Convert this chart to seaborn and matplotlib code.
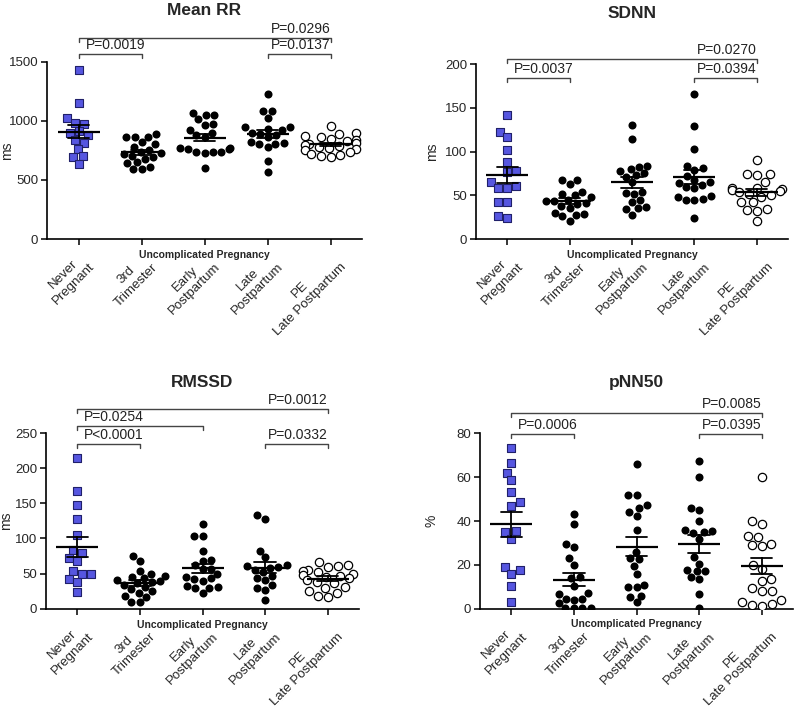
import numpy as np
import pandas as pd
import seaborn as sns
import matplotlib.pyplot as plt
from matplotlib.transforms import blended_transform_factory

sns.set_theme(style="ticks")
plt.rcParams['font.family'] = ['Liberation Sans', 'DejaVu Sans']

groups = ["Never\nPregnant", "3rd\nTrimester", "Early\nPostpartum",
          "Late\nPostpartum", "PE\nLate Postpartum"]

# Mean RR (ms)
rr_never = [1427, 1150, 1020, 980, 970, 910, 900, 880, 840, 815, 760, 700, 695, 635]
rr_3rd = [865, 860, 885, 860, 820, 800, 780, 750, 740, 725, 720, 700, 690, 680, 650, 640, 610, 590, 590]
rr_early = [1063, 1050, 1045, 1012, 973, 964, 922, 900, 880, 866, 770, 767, 765, 760, 740, 738, 735, 730, 598]
rr_late = [1226, 1085, 1080, 1021, 950, 945, 930, 920, 900, 890, 880, 860, 820, 810, 805, 800, 780, 662, 564]
rr_pe = [955, 895, 890, 870, 860, 850, 840, 830, 810, 800, 795, 790, 780, 770, 760, 750, 740, 720, 710, 700, 690]

# SDNN (ms)
sdnn_never = [142, 123, 117, 102, 88, 78, 77, 65, 61, 58, 58, 42, 42, 26, 24]
sdnn_3rd = [68, 68, 63, 54, 52, 50, 48, 45, 44, 43, 41, 40, 38, 36, 30, 29, 27, 26, 21]
sdnn_early = [131, 114, 84, 82, 80, 78, 75, 73, 71, 65, 54, 53, 51, 45, 42, 37, 35, 34, 28]
sdnn_late = [166, 129, 103, 84, 81, 79, 72, 68, 65, 64, 62, 60, 58, 49, 48, 46, 45, 45, 24]
sdnn_pe = [90, 74, 74, 73, 65, 58, 58, 57, 56, 55, 54, 52, 50, 48, 42, 42, 34, 33, 32, 21]

# RMSSD (ms)
rmssd_never = [215, 168, 147, 127, 105, 84, 79, 72, 68, 53, 50, 49, 42, 38, 24]
rmssd_3rd = [75, 68, 53, 50, 47, 45, 43, 41, 40, 38, 36, 34, 31, 28, 25, 23, 18, 17, 10, 9]
rmssd_early = [121, 104, 103, 82, 70, 68, 62, 57, 56, 50, 45, 43, 42, 40, 32, 31, 30, 29, 23]
rmssd_late = [133, 128, 82, 73, 62, 61, 59, 58, 55, 52, 47, 43, 41, 34, 29, 27, 12]
rmssd_pe = [66, 62, 61, 59, 55, 53, 52, 50, 48, 47, 45, 43, 41, 38, 36, 31, 30, 25, 22, 18, 17]

# pNN50 (%)
pnn_never = [73.5, 66.5, 62, 58.5, 53, 48.5, 47, 35.5, 35, 32, 19, 17.5, 16, 10.5, 3]
pnn_3rd = [43, 38.5, 29.5, 28, 23, 20, 14.5, 14, 10.5, 7, 6.5, 4.5, 4.5, 4, 2.5, 0.5, 0.5, 0.3, 0.2]
pnn_early = [66, 52, 52, 47.5, 46, 44.3, 42.5, 36, 26, 23, 22.5, 19.5, 16, 11, 10, 9.8, 6, 5.5, 3]
pnn_late = [67.5, 60, 46, 45, 40, 36, 35.5, 35, 34.5, 32, 23.5, 20.5, 17.5, 17.2, 17, 14.3, 13.5, 6.5, 0.2]
pnn_pe = [60, 40, 38.5, 33, 32.5, 29.5, 29, 28.5, 20, 18, 13.5, 12.5, 9.5, 8, 8, 4, 3, 2, 1.5, 1.2]

panels = [
    dict(title="Mean RR", ylabel="ms", ymax=1500, yticks=[0, 500, 1000, 1500],
         values=[rr_never, rr_3rd, rr_early, rr_late, rr_pe],
         pvals=[(0, 1, "P=0.0019"), (3, 4, "P=0.0137"), (0, 4, "P=0.0296")]),
    dict(title="SDNN", ylabel="ms", ymax=200, yticks=[0, 50, 100, 150, 200],
         values=[sdnn_never, sdnn_3rd, sdnn_early, sdnn_late, sdnn_pe],
         pvals=[(0, 1, "P=0.0037"), (3, 4, "P=0.0394"), (0, 4, "P=0.0270")]),
    dict(title="RMSSD", ylabel="ms", ymax=250, yticks=[0, 50, 100, 150, 200, 250],
         values=[rmssd_never, rmssd_3rd, rmssd_early, rmssd_late, rmssd_pe],
         pvals=[(0, 1, "P<0.0001"), (0, 2, "P=0.0254"), (3, 4, "P=0.0332"), (0, 4, "P=0.0012")]),
    dict(title="pNN50", ylabel="%", ymax=80, yticks=[0, 20, 40, 60, 80],
         values=[pnn_never, pnn_3rd, pnn_early, pnn_late, pnn_pe],
         pvals=[(0, 1, "P=0.0006"), (3, 4, "P=0.0395"), (0, 4, "P=0.0085")]),
]

# layout (pixels in a 795x713 canvas)
W, H = 795, 713
rects = [(47, 61.7, 362, 239), (476, 64.3, 788, 239),
         (46, 433, 359, 608.7), (480, 433.3, 793, 608.7)]
bracket_levels = [[1.043, 1.043, 1.135], [0.92, 0.92, 1.029],
                  [0.939, 1.042, 0.939, 1.138], [0.996, 0.996, 1.114]]
ylabel_x = [-0.105, -0.12, -0.104, -0.134]

fig = plt.figure(figsize=(W / 100, H / 100), dpi=100)

for k, p in enumerate(panels):
    x0, y0, x1, y1 = rects[k]
    ax = fig.add_axes([x0 / W, 1 - y1 / H, (x1 - x0) / W, (y1 - y0) / H])

    rows = []
    for g, vals in zip(groups, p["values"]):
        for v in vals:
            rows.append((g, v))
    df = pd.DataFrame(rows, columns=["group", "value"])

    sq = df[df.group == groups[0]]
    filled = df[df.group.isin(groups[1:4])]
    hollow = df[df.group == groups[4]]
    sns.swarmplot(data=sq, x="group", y="value", order=groups, marker="s", size=5.5,
                  color="#5656e0", edgecolor="#20206a", linewidth=0.8, ax=ax, zorder=3)
    sns.swarmplot(data=filled, x="group", y="value", order=groups, size=5.8,
                  color="black", edgecolor="black", linewidth=0, ax=ax, zorder=3)
    sns.swarmplot(data=hollow, x="group", y="value", order=groups, size=6.0,
                  color="white", edgecolor="black", linewidth=0.9, ax=ax, zorder=3)

    # mean +/- SEM
    sns.pointplot(data=df, x="group", y="value", order=groups, errorbar="se",
                  capsize=0.34, color="black", marker="_", markersize=30,
                  markeredgewidth=1.6, linestyle="none",
                  err_kws={"linewidth": 1.3}, ax=ax, zorder=5)

    ax.set_xlim(-0.5, 4.5)
    ax.set_ylim(0, p["ymax"])
    ax.set_yticks(p["yticks"])
    ax.set_xticks(range(len(groups)))
    ax.set_xticklabels(groups)
    for lab in ax.get_xticklabels():
        lab.set_rotation(45)
        lab.set_ha("right")
        lab.set_va("top")
        lab.set_rotation_mode("anchor")
        lab.set_multialignment("center")
    ax.tick_params(axis="x", length=4.3, width=1.1, pad=4.5, labelsize=9.5, color="black")
    ax.tick_params(axis="y", length=4.3, width=1.1, pad=2, labelsize=9.5, color="black")
    for s in ["top", "right"]:
        ax.spines[s].set_visible(False)
    for s in ["left", "bottom"]:
        ax.spines[s].set_color("black")
        ax.spines[s].set_linewidth(1.2)

    ax.set_xlabel("")
    ax.set_ylabel(p["ylabel"], fontsize=10)
    ax.yaxis.set_label_coords(ylabel_x[k], 0.5)

    ax.text(0.5, 1.29, p["title"], transform=ax.transAxes, ha="center", va="center",
            fontsize=12.5, fontweight="bold")

    trans = blended_transform_factory(ax.transData, ax.transAxes)
    ax.text(2, -0.09, "Uncomplicated Pregnancy", transform=trans, ha="center", va="center",
            fontsize=7.5, fontweight="bold")

    # significance brackets
    for (i, j, label), lev in zip(p["pvals"], bracket_levels[k]):
        ax.plot([i, i, j, j], [lev - 0.023, lev, lev, lev - 0.023], color="#444444",
                lw=1.0, transform=trans, clip_on=False)
        if j == 4:
            ax.text(j, lev + 0.012, label, transform=trans, ha="right", va="bottom",
                    fontsize=10, color="#222222")
        else:
            ax.text(i + 0.11, lev + 0.012, label, transform=trans, ha="left", va="bottom",
                    fontsize=10, color="#222222")

fig.savefig("out.png", dpi=100)
